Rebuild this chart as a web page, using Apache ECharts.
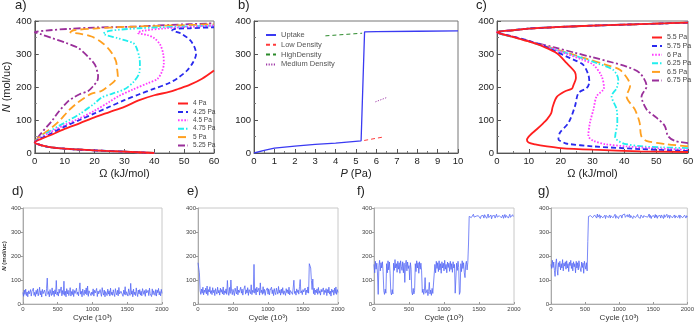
<!DOCTYPE html>
<html><head><meta charset="utf-8">
<script src="https://cdn.jsdelivr.net/npm/echarts@6/dist/echarts.min.js"></script>
<style>html,body{margin:0;padding:0;background:#fff}#c{width:697px;height:323px}</style>
</head><body><div id="c"></div>
<script>
// ---------- DATA ----------
// Panel a: [Omega (kJ/mol), N (mol/uc)] for each pressure
const aNames = ['4 Pa','4.25 Pa','4.5 Pa','4.75 Pa','5 Pa','5.25 Pa'];
const aLow = [[40,0],[30,4],[20,8],[10,13],[5,18],[2,24],[0,32]];
const a4 = [[0,32],[2,42],[5,53],[10,73],[15,90],[20,108],[25,124],[30,140],[35,160],[40,175],[45,185],[48,194],[52,207],[56,225],[60,250]];
const a425 = [[0,32],[2,44],[5,57],[10,80],[15,100],[20,120],[25,140],[30,160],[35,178],[40,195],[45,212],[48,228],[51,250],[53,275],[54,300],[53.5,320],[52,342],[49,362],[46,372],[47,376],[52,378],[60,381]];
const a45 = [[0,33],[2,46],[5,62],[10,85],[15,105],[20,128],[25,155],[28,172],[33,193],[38,212],[41,224],[42.5,245],[43.2,270],[43,300],[42,328],[40,348],[37.5,358],[34.5,364],[36,370],[44,378],[60,386]];
const a475 = [[0,34],[2,48],[5,66],[10,92],[15,118],[20,150],[22.3,168],[26,180],[30,193],[33,215],[35,243],[35.2,270],[35,290],[34,320],[33,333],[30,342],[27.8,348],[23,362],[25,370],[35,378],[60,386]];
const a5 = [[0,35],[2,52],[5,72],[8,95],[11.3,128],[14,150],[16.8,168],[19,180],[22.3,188],[25,205],[26.7,218],[27.8,233],[27.5,260],[27.2,278],[26,300],[24.5,318],[22,338],[19,353],[15,362],[11.9,366],[13,372],[20,377],[30,382],[60,390]];
const a525 = [[0,36],[2,58],[5.8,98],[8,125],[11.3,158],[13,168],[15,178],[17.9,188],[19.6,203],[21,220],[21.2,233],[21,245],[20.1,268],[18,290],[14.6,318],[10,335],[5.8,348],[2,360],[0,366],[5,372],[11.3,376],[20,380],[33.3,383],[45,388],[60,393]];

// Panel b: [P (Pa), N]
const bUptake = [[0,0],[0.5,8],[1,15],[2,21],[3,26],[4,30],[5.25,37],[5.42,367],[6,368],[8,369],[10,370]];
const bLow = [[5.4,38],[6.3,48]];
const bHigh = [[3.5,355],[5.3,363]];
const bMed = [[5.95,155],[6.5,168]];

// Panel c: [Omega, N]
const cNames = ['5.5 Pa','5.75 Pa','6 Pa','6.25 Pa','6.5 Pa','6.75 Pa'];
const cTop = [[0,366],[5,372],[10,377],[20,382],[30,386],[40,389],[50,392],[60,395]];
const c55 = [[60,3],[45,5],[30,10],[20,15],[15.7,20],[12,26],[9.9,32],[9.4,40],[10.5,55],[12.5,72],[14.5,90],[15.7,102],[17,120],[17.5,140],[18.8,170],[21.4,187],[23.5,195],[24,205],[24.8,227],[24.5,245],[21.9,272],[18.8,302],[14.6,322],[10,338],[5,352],[0,366]];
const c575 = [[60,6],[45,12],[30.3,20],[22,28],[20.9,32],[19.3,42],[19.8,62],[22.5,92],[24.5,142],[25.6,182],[28.2,197],[29,215],[28.7,237],[27.1,267],[24,283],[21.9,292],[18,310],[14.6,325],[10,340],[5,353],[0,366]];
const c6 = [[60,10],[50,14],[40.7,20],[34,27],[30.3,37],[28.7,52],[29.2,92],[30.3,132],[31.3,172],[33.6,197],[32.9,232],[30.3,267],[27,282],[22,300],[17,318],[12,333],[6,350],[0,366]];
const c625 = [[60,15],[52,17],[45.9,20],[40,28],[38.1,37],[37.1,47],[37.8,92],[37.6,132],[36,172],[37.6,197],[38.1,222],[36.5,252],[32,270],[26,290],[20,308],[14,326],[8,344],[0,366]];
const c65 = [[60,20],[53.2,27],[46.9,37],[45.3,52],[44.8,92],[43.3,132],[40.7,172],[41.8,202],[41.2,222],[38.6,252],[34,268],[28,286],[22,304],[16,322],[10,338],[5,352],[0,366]];
const c675 = [[60,30],[55.8,37],[53.7,52],[52.7,82],[50.1,107],[47,132],[45.4,172],[47,202],[44.9,242],[40.7,262],[36,275],[30,290],[24,305],[18,320],[12,334],[6,350],[0,366]];

// Panels d-g: N vs cycle (10^3), one value every 10 cycles
const cycleStep = 10;
const dN = [48,32,58,40,62,35,50,30,55,42, 38,60,33,52,44,66,36,49,31,57, 41,63,34,47,70,38,55,29,61,43, 36,58,45,33,65,108,40,52,30,60,
 44,35,67,39,54,31,59,42,98,37, 50,33,62,45,38,71,34,56,40,95, 36,53,30,64,42,57,35,48,68,33, 52,39,61,31,56,44,37,66,40,50,
 34,59,88,41,53,30,62,45,36,58, 43,67,38,75,32,55,47,61,35,50, 40,63,33,57,46,38,65,31,54,42, 36,60,44,32,68,49,37,58,30,52,
 45,35,62,41,55,33,66,39,50,36, 59,43,31,64,47,38,57,34,69,42, 35,53,46,61,32,58,40,72,37,51, 44,33,63,48,36,86,41,55,30,62,
 39,50,35,67,45,31,58,42,60,37, 53,34,64,72,40,56,32,61,46,38, 57,35,66,43,50,31,63,39,55,45, 36,60,33,58,47,65,38,52,34,61, 44];
const eN = [172,150,130,55,40,62,45,70,38,58, 48,66,42,75,36,60,50,72,44,56, 39,68,47,58,35,64,52,41,70,46, 57,37,66,49,60,42,71,38,55,45,
 63,40,98,50,36,69,44,100,53,39, 61,47,35,66,52,42,74,38,58,48, 40,70,45,62,37,56,50,76,41,59, 46,68,36,60,52,43,80,39,57,48,
 165,45,64,38,70,50,42,66,37,88, 47,58,40,72,44,61,36,55,49,67, 41,63,38,57,50,70,43,59,35,64, 48,39,66,52,41,73,46,58,37,62,
 45,68,40,55,50,36,64,47,59,42, 70,38,56,49,61,40,67,99,44,53, 37,63,48,58,41,72,102,46,55,39, 60,50,43,66,38,58,47,71,45,168,
 172,150,98,60,104,43,66,38,58,47, 63,40,69,45,55,37,61,50,42,67, 39,57,48,64,35,60,46,70,41,54, 33,62,49,58,37,66,44,71,40,60, 48];
const fN = [165,130,178,145,170,125,40,160,182,138, 172,150,176,135,55,40,62,45,168,130, 180,142,175,128,48,38,60,42,170,140,
 185,150,168,132,178,145,172,128,180,155, 140,176,130,170,90,165,182,138,175,148, 160,100,172,145,50,38,65,42,55,168,
 135,180,150,172,128,176,145,170,138,48, 62,40,55,110,45,38,60,35,52,90, 42,58,36,65,44,50,38,165,130,178,
 148,172,135,180,142,168,128,176,150,170, 138,182,145,165,130,175,152,170,136,178, 144,168,132,176,150,165,45,38,170,140,
 178,152,40,50,168,135,180,148,172,130, 110,165,178,142,172,250,365,358,372,360, 368,355,374,362,370,357,366,373,359,368,
 363,371,356,367,374,361,369,358,372,364, 370,357,366,375,360,368,362,371,355,367, 373,361,369,358,366,374,362,370,356,368,
 364,372,359,367,371,357,365,373,360,369, 362,370,358,366,374,361,368,356,372,364, 366];
const gN = [165,148,182,152,175,140,115,170,188,145, 120,172,155,178,142,168,150,185,138,170, 158,176,145,180,150,168,135,174,160,182,
 148,170,138,176,155,168,130,178,150,172, 142,180,158,166,135,175,152,170,128,178, 160,145,172,138,260,365,372,358,368,362,
 374,360,367,356,371,363,369,358,375,362, 366,372,357,368,361,373,359,367,364,370, 356,369,362,374,360,366,371,358,368,363,
 372,359,367,361,374,357,368,364,370,356, 366,373,360,369,358,371,363,367,375,361, 368,357,372,362,366,374,359,369,363,371,
 356,367,364,372,360,368,358,373,362,369, 366,357,371,363,374,359,368,361,370,364, 358,372,362,367,375,360,369,356,366,371,
 363,368,359,373,361,370,357,366,374,362, 369,358,371,364,367,356,372,361,368,363, 374,360,366,370,357,369,362,373,359,367,
 364,371,358,368,362,374,360,366,371,357, 369,363,372,359,367,361,370,365,358,368, 362];

const panelLabels = ['a)','b)','c)','d)','e)','f)','g)'];
// ---------- CHART ----------
const FONT = 'Liberation Sans, Arial, sans-serif';
const chart = echarts.init(document.getElementById('c'), null, {renderer:'canvas'});

const grids = [
 {left:32, top:21, width:182, height:132},
 {left:254, top:21, width:204, height:132},
 {left:497, top:21, width:191, height:132},
 {left:22, top:208, width:140, height:96},
 {left:198, top:208, width:140, height:96},
 {left:374, top:208, width:140, height:96},
 {left:551, top:208, width:139, height:96}
].map((g,i)=>Object.assign(g,{show:true, borderColor: i<3?'#777':'#c8c8c8', borderWidth:1, containLabel:false}));

const plain = v => String(v);
function topX(i,max,interval,name){
  return {gridIndex:i, type:'value', min:0, max:max, interval:interval,
    axisLine:{show:true,onZero:false,lineStyle:{color:'#555',width:1}},
    axisTick:{show:true,inside:true,length:4,lineStyle:{color:'#555'}},
    minorTick:{show:true,splitNumber:2,length:2,lineStyle:{color:'#777'}},
    splitLine:{show:false},
    axisLabel:{fontSize:9.5,color:'#222',margin:3,fontFamily:FONT,formatter:plain},
    name:name, nameLocation:'middle', nameGap:15,
    nameTextStyle:{fontSize:11,color:'#222',fontFamily:FONT,rich:{i:{fontStyle:'italic',fontSize:11,fontFamily:FONT,color:'#222'}}}};
}
function topY(i,name){
  return {gridIndex:i, type:'value', min:0, max:400, interval:100,
    axisLine:{show:true,onZero:false,lineStyle:{color:'#555',width:1}},
    axisTick:{show:true,inside:true,length:4,lineStyle:{color:'#555'}},
    minorTick:{show:true,splitNumber:2,length:2,lineStyle:{color:'#777'}},
    splitLine:{show:false},
    axisLabel:{fontSize:9.5,color:'#222',margin:3,fontFamily:FONT,formatter:plain},
    name:name||'', nameLocation:'middle', nameGap:19,
    nameTextStyle:{fontSize:11,color:'#222',fontFamily:FONT,rich:{i:{fontStyle:'italic',fontSize:11,fontFamily:FONT,color:'#222'}}}};
}
function botX(i){
  return {gridIndex:i, type:'value', min:0, max:2000, interval:500,
    axisLine:{show:true,onZero:false,lineStyle:{color:'#aaa',width:1}},
    axisTick:{show:true,inside:true,length:2,lineStyle:{color:'#999'}},
    splitLine:{show:false},
    axisLabel:{fontSize:6,color:'#444',margin:2,fontFamily:FONT,formatter:plain},
    name:'Cycle (10³)', nameLocation:'middle', nameGap:10,
    nameTextStyle:{fontSize:8,color:'#333',fontFamily:FONT}};
}
function botY(i,name){
  return {gridIndex:i, type:'value', min:0, max:400, interval:100,
    axisLine:{show:true,onZero:false,lineStyle:{color:'#aaa',width:1}},
    axisTick:{show:true,inside:false,length:2,lineStyle:{color:'#999'}},
    splitLine:{show:false},
    axisLabel:{fontSize:6,color:'#444',margin:2,fontFamily:FONT,formatter:plain},
    name:name||'', nameLocation:'middle', nameGap:12,
    nameTextStyle:{fontSize:6,color:'#333',fontFamily:FONT,fontWeight:'bold',rich:{i:{fontStyle:'italic',fontWeight:'bold',fontSize:6,fontFamily:FONT,color:'#333'}}}};
}

const xAxis = [topX(0,60,10,'Ω (kJ/mol)'), topX(1,10,1,'{i|P} (Pa)'), topX(2,60,10,'Ω (kJ/mol)'), botX(3), botX(4), botX(5), botX(6)];
const yAxis = [topY(0,'{i|N} (mol/uc)'), topY(1), topY(2), botY(3,'{i|N} (mol/uc)'), botY(4), botY(5), botY(6)];

const pal = ['#ff1f1f','#2a2aee','#ff3cff','#22eeee','#ffa020','#9a2f9a'];
const dashes = ['solid',[5,3],[1.6,1.6],[6,2,1.5,2,1.5,2],[8,4],[7,2.5,2,2.5]];
const aCurves = [a4,a425,a45,a475,a5,a525];
const cCurves = [c55,c575,c6,c625,c65,c675];

const series = [];
aCurves.forEach((cv,k)=>{
  series.push({name:aNames[k], type:'line', xAxisIndex:0, yAxisIndex:0, showSymbol:false, symbol:'circle', smooth:0.3,
    data: aLow.concat(cv.slice(1)), lineStyle:{color:pal[k], width:1.8, type:dashes[k]}, itemStyle:{color:pal[k]}, z:10-k});
});
cCurves.forEach((cv,k)=>{
  series.push({name:cNames[k], type:'line', xAxisIndex:2, yAxisIndex:2, showSymbol:false, symbol:'circle', smooth:0.3,
    data: cv.concat(cTop.slice(1)), lineStyle:{color:pal[k], width:1.8, type:dashes[k]}, itemStyle:{color:pal[k]}, z:10-k});
});
const bSpec = [['Uptake',bUptake,'#3a3af2','solid',1.3],['Low Density',bLow,'#ff3b3b',[4,3],1],['HighDensity',bHigh,'#2b8a2b',[4,3],1],['Medium Density',bMed,'#a03aa8',[1.2,1.4],1]];
bSpec.forEach(s=>{
  series.push({name:s[0], type:'line', xAxisIndex:1, yAxisIndex:1, showSymbol:false, symbol:'circle',
    data:s[1], lineStyle:{color:s[2], width:s[4], type:s[3]}, itemStyle:{color:s[2]}});
});
[dN,eN,fN,gN].forEach((arr,k)=>{
  series.push({name:'trace'+k, type:'line', xAxisIndex:3+k, yAxisIndex:3+k, showSymbol:false, symbol:'none', silent:true,
    data: arr.map((v,i)=>[i*cycleStep, v]), lineStyle:{color:'rgba(80,98,245,0.85)', width:0.9}});
});

const legend = [
  {data:aNames, orient:'vertical', left:172, top:95, itemWidth:10, itemHeight:6, itemGap:1.4, itemStyle:{opacity:0},
    textStyle:{fontFamily:FONT,color:'#444',fontSize:6.5,lineHeight:7}},
  {data:bSpec.map(s=>s[0]), orient:'vertical', left:260, top:26, itemWidth:10, itemHeight:7, itemGap:1.8, itemStyle:{opacity:0},
    textStyle:{fontFamily:FONT,color:'#555',fontSize:7.5,lineHeight:8}},
  {data:cNames, orient:'vertical', left:646, top:29, itemWidth:10, itemHeight:6, itemGap:1.6, itemStyle:{opacity:0},
    textStyle:{fontFamily:FONT,color:'#444',fontSize:7,lineHeight:7}}
];

const labelPos = [[15,-1],[238,-1],[476,-1],[12,185],[187,185],[357,185],[538,185]];
const graphic = panelLabels.map((t,i)=>({type:'text', left:labelPos[i][0], top:labelPos[i][1],
  style:{text:t, font:'13px '+FONT, fill:'#222'}}));

chart.setOption({animation:false, backgroundColor:'#fff', grid:grids, xAxis:xAxis, yAxis:yAxis, series:series, legend:legend, graphic:graphic});
</script></body></html>
